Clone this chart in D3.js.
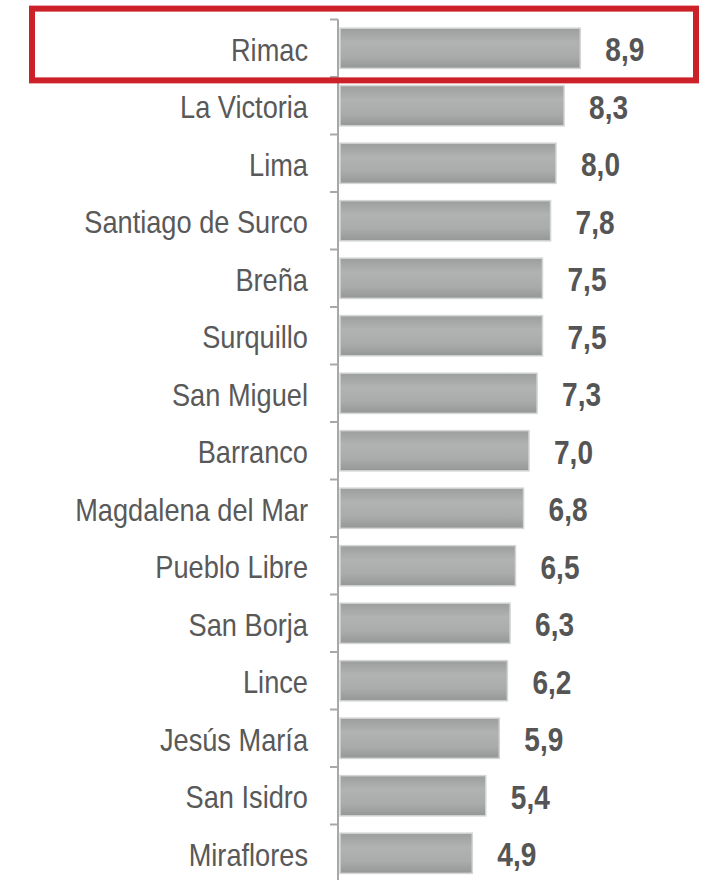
<!DOCTYPE html>
<html>
<head>
<meta charset="utf-8">
<script src="https://cdn.jsdelivr.net/npm/d3@7"></script>
<style>
  body { margin: 0; background: #fff; }
  svg text { font-family: "Liberation Sans", Arial, sans-serif; }
</style>
</head>
<body>
<script>
// districts, top to bottom
let districts = ["Rimac", "La Victoria", "Lima", "Santiago de Surco", "Breña", "Surquillo",
  "San Miguel", "Barranco", "Magdalena del Mar", "Pueblo Libre", "San Borja", "Lince",
  "Jesús María", "San Isidro", "Miraflores"];
let values = [8.9, 8.3, 8.0, 7.8, 7.5, 7.5, 7.3, 7.0, 6.8, 6.5, 6.3, 6.2, 5.9, 5.4, 4.9];
let highlighted = ["Rimac"];

let width = 713, height = 880;
let squeeze = 0.85; // the original uses a narrow face

let svg = d3.select("body")
  .append("svg")
  .attr("width", width)
  .attr("height", height);

let defs = svg.append("defs");
let grad = defs.append("linearGradient")
  .attr("id", "barGrad")
  .attr("x1", 0).attr("y1", 0).attr("x2", 0).attr("y2", 1);
grad.append("stop").attr("offset", "0%").attr("stop-color", "#9c9e9e");
grad.append("stop").attr("offset", "35%").attr("stop-color", "#b1b3b3");
grad.append("stop").attr("offset", "70%").attr("stop-color", "#aaacac");
grad.append("stop").attr("offset", "100%").attr("stop-color", "#959797");

let xScale = d3.scaleLinear()
  .domain([0, 10])
  .range([340, 610]);

let yScale = d3.scaleBand()
  .domain(districts)
  .range([19.5, 882])
  .paddingInner(0.3)
  .paddingOuter(0.15);

let step = yScale.step();

// axis line and ticks between bars
svg.append("line")
  .attr("x1", 338).attr("x2", 338)
  .attr("y1", yScale(districts[0]) - step * 0.15)
  .attr("y2", height)
  .attr("stroke", "#a8a8a8")
  .attr("stroke-width", 2);

svg.selectAll("line.tick")
  .data(districts)
  .enter()
  .append("line")
    .attr("class", "tick")
    .attr("x1", 330).attr("x2", 338)
    .attr("y1", (d) => yScale(d) - step * 0.15)
    .attr("y2", (d) => yScale(d) - step * 0.15)
    .attr("stroke", "#a8a8a8")
    .attr("stroke-width", 2);

// bars
svg.selectAll("rect.bar")
  .data(districts)
  .enter()
  .append("rect")
    .attr("class", "bar")
    .attr("x", xScale(0))
    .attr("y", (d) => yScale(d))
    .attr("width", (d, i) => xScale(values[i]) - xScale(0))
    .attr("height", yScale.bandwidth())
    .attr("fill", "url(#barGrad)")
    .attr("stroke", "#d4d6d6")
    .attr("stroke-width", 1.5);

// category labels
svg.selectAll("text.label")
  .data(districts)
  .enter()
  .append("text")
    .attr("class", "label")
    .attr("transform", (d) => `translate(308,${yScale(d) + yScale.bandwidth() / 2 + 1}) scale(${squeeze},1)`)
    .attr("dy", "0.36em")
    .attr("text-anchor", "end")
    .attr("font-size", "32px")
    .attr("fill", "#595959")
    .text((d) => d);

// value labels
svg.selectAll("text.value")
  .data(districts)
  .enter()
  .append("text")
    .attr("class", "value")
    .attr("transform", (d, i) => `translate(${xScale(values[i]) + 25},${yScale(d) + yScale.bandwidth() / 2 + 1}) scale(${squeeze},1)`)
    .attr("dy", "0.36em")
    .attr("font-size", "33px")
    .attr("font-weight", "bold")
    .attr("fill", "#555")
    .text((d, i) => d3.format(".1f")(values[i]).replace(".", ","));

// red highlight box
svg.selectAll("rect.highlight")
  .data(highlighted)
  .enter()
  .append("rect")
    .attr("class", "highlight")
    .attr("x", 32)
    .attr("y", (d) => yScale(d) - 19.5)
    .attr("width", 664)
    .attr("height", (d) => yScale.bandwidth() + 31.5)
    .attr("fill", "none")
    .attr("stroke", "#cc2129")
    .attr("stroke-width", 6);
</script>
</body>
</html>
